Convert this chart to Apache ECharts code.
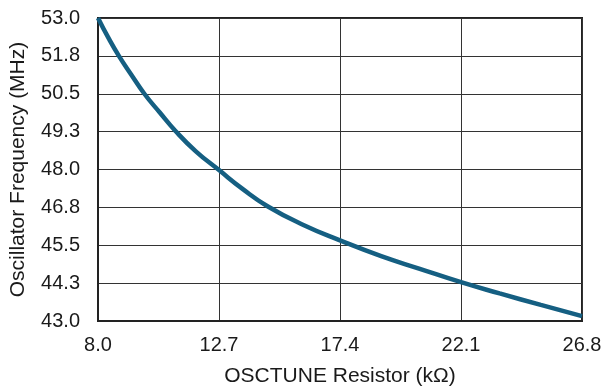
<!DOCTYPE html>
<html>
<head>
<meta charset="utf-8">
<script src="https://cdn.jsdelivr.net/npm/echarts@6/dist/echarts.min.js"></script>
<style>
  html, body { margin: 0; padding: 0; background: #fff; }
  #chart { width: 616px; height: 392px; }
</style>
</head>
<body>
<div id="chart"></div>
<script>
// OSCTUNE resistor (kΩ) vs oscillator frequency (MHz)
const resistor = [8.0, 8.4, 8.81, 9.3, 9.8, 10.4, 11.0, 11.8, 12.7, 13.6, 14.6, 16.0, 17.4, 19.0, 20.5, 22.1, 23.6, 25.2, 26.8]
const freq = [53.0, 52.35, 51.75, 51.12, 50.5, 49.88, 49.28, 48.6, 47.98, 47.37, 46.78, 46.16, 45.66, 45.14, 44.72, 44.28, 43.91, 43.53, 43.16]

const xTickLabels = ['8.0', '12.7', '17.4', '22.1', '26.8']
const yTickLabels = ['43.0', '44.3', '45.5', '46.8', '48.0', '49.3', '50.5', '51.8', '53.0']

const X_MIN = 8.0, X_STEP = 4.7
const Y_MIN = 43.0, Y_STEP = 1.25

const FONT = '"Liberation Sans", Arial, sans-serif'
const GRIDLINE = '#333'

const chart = echarts.init(document.getElementById('chart'), null, { renderer: 'canvas' })

chart.setOption({
  animation: false,
  backgroundColor: '#fff',
  textStyle: { fontFamily: FONT },
  grid: {
    left: 98, right: 34, top: 18, bottom: 68,
    show: true, borderColor: '#222', borderWidth: 2,
  },
  xAxis: {
    type: 'value',
    min: X_MIN,
    max: X_MIN + X_STEP * (xTickLabels.length - 1),
    interval: X_STEP,
    name: 'OSCTUNE Resistor (kΩ)',
    nameLocation: 'middle',
    nameGap: 45,
    nameTextStyle: { color: '#1a1a1a', fontSize: 21, fontFamily: FONT },
    axisLine: { show: true, lineStyle: { color: '#222', width: 2 } },
    axisTick: { show: false },
    axisLabel: {
      color: '#1a1a1a', fontSize: 20, margin: 14, fontFamily: FONT,
      formatter: (v) => xTickLabels[Math.round((v - X_MIN) / X_STEP)] ?? '',
    },
    splitLine: { show: true, lineStyle: { color: GRIDLINE, width: 1 } },
  },
  yAxis: {
    type: 'value',
    min: Y_MIN,
    max: Y_MIN + Y_STEP * (yTickLabels.length - 1),
    interval: Y_STEP,
    name: 'Oscillator Frequency (MHz)',
    nameLocation: 'middle',
    nameGap: 69,
    nameTextStyle: { color: '#1a1a1a', fontSize: 21, fontFamily: FONT },
    axisLine: { show: true, lineStyle: { color: '#222', width: 2 } },
    axisTick: { show: false },
    axisLabel: {
      color: '#1a1a1a', fontSize: 20, margin: 18, fontFamily: FONT,
      formatter: (v) => yTickLabels[Math.round((v - Y_MIN) / Y_STEP)] ?? '',
    },
    splitLine: { show: true, lineStyle: { color: GRIDLINE, width: 1 } },
  },
  series: [
    {
      type: 'line',
      data: resistor.map((r, i) => [r, freq[i]]),
      smooth: true,
      symbol: 'none',
      lineStyle: { color: '#155f82', width: 4.5 },
      z: 5,
    },
  ],
})
</script>
</body>
</html>
